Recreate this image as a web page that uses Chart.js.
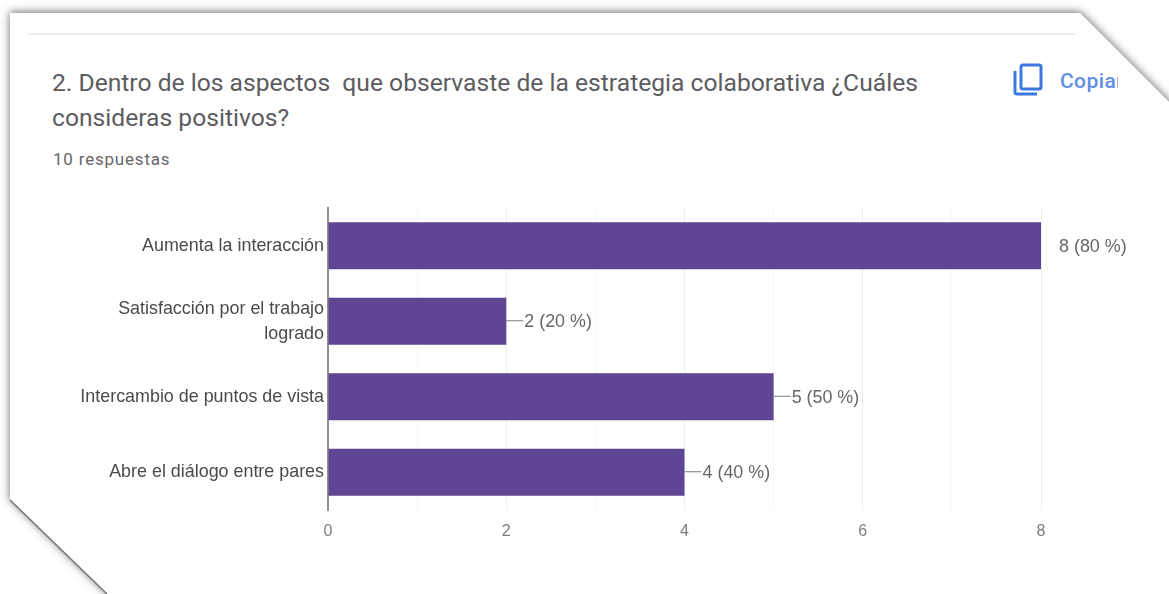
<!DOCTYPE html>
<html lang="es">
<head>
<meta charset="utf-8">
<title>Aspectos positivos</title>
<script src="https://cdn.jsdelivr.net/npm/chart.js@4"></script>
<style>
html,body{margin:0;padding:0;background:#fff;overflow:hidden}
#page{position:relative;width:1169px;height:594px;overflow:hidden}
#card,#chart{position:absolute;left:0;top:0}
.rule{position:absolute;left:28px;top:33px;width:1047px;height:2px;background:#ececec}
.title{position:absolute;left:52px;top:65px;font:24.65px/35px Roboto,sans-serif;color:#5c5c5f;white-space:pre}
.count{position:absolute;left:53px;top:149px;font:17px/20px Roboto,sans-serif;letter-spacing:.8px;color:#66666a}
.copy{position:absolute;left:1060px;top:69px;width:58px;overflow:hidden;font:500 21px/24px Roboto,sans-serif;letter-spacing:.4px;color:#5f8de6;white-space:nowrap}
#icon{position:absolute;left:1012px;top:62px}
</style>
</head>
<body>
<div id="page">
<svg id="card" width="1169" height="594">
<defs>
<filter id="edge" x="-5%" y="-5%" width="110%" height="110%">
<feDropShadow dx="0" dy="-1" stdDeviation="4" flood-color="#444" flood-opacity=".8"/>
</filter>
</defs>
<polygon points="10,13 1080,13 1190,123 1190,610 123,610 10,500" fill="#fff" filter="url(#edge)"/>
<line x1="10" y1="500" x2="107" y2="594" stroke="#77777a" stroke-width="1.5"/>
</svg>
<div class="rule"></div>
<div class="title">2. Dentro de los aspectos  que observaste de la estrategia colaborativa ¿Cuáles
consideras positivos?</div>
<div class="count">10 respuestas</div>
<svg id="icon" width="32" height="36" viewBox="0 0 32 36" fill="none" stroke="#3b78e0" stroke-width="3">
<rect x="9" y="3" width="20" height="24" rx="2"/>
<path d="M3 9V30a2 2 0 0 0 2 2H25"/>
</svg>
<div class="copy">Copiar</div>
<canvas id="chart" width="1169" height="594"></canvas>
</div>
<script>
// Respuestas por aspecto
const categories = [
  "Aumenta la interacción",
  ["Satisfacción por el trabajo", "logrado"],
  "Intercambio de puntos de vista",
  "Abre el diálogo entre pares"
];
const counts = [8, 2, 5, 4];
const percents = [80, 20, 50, 40];
const xTicks = [0, 2, 4, 6, 8];

// Etiqueta de valor con su linea guia, a la derecha de cada barra
const barLabels = {
  id: "barLabels",
  afterDatasetsDraw(chart) {
    const c = chart.ctx;
    const bars = chart.getDatasetMeta(0).data;
    c.save();
    c.font = "17.9px 'Liberation Sans', sans-serif";
    c.textBaseline = "middle";
    bars.forEach((bar, i) => {
      const textX = bar.x + 18;
      // la barra mas larga no lleva guia
      if (counts[i] < 8) {
        c.strokeStyle = "#7c7c7c";
        c.lineWidth = 1;
        c.beginPath();
        c.moveTo(bar.x, bar.y - 0.5);
        c.lineTo(textX - 1, bar.y - 0.5);
        c.stroke();
      }
      c.fillStyle = "#66666a";
      c.fillText(counts[i] + " (" + percents[i] + " %)", textX, bar.y + 1);
    });
    c.restore();
  }
};

new Chart(document.getElementById("chart"), {
  type: "bar",
  data: {
    labels: categories,
    datasets: [{
      data: counts,
      backgroundColor: "#5f4695",
      barPercentage: 0.62,
      categoryPercentage: 1
    }]
  },
  options: {
    indexAxis: "y",
    responsive: false,
    animation: false,
    layout: { padding: { left: 0, right: 128, top: 208, bottom: 54 } },
    plugins: { legend: { display: false }, tooltip: { enabled: false } },
    scales: {
      x: {
        min: 0,
        max: 8,
        afterFit(scale) { scale.height = 30; },
        border: { display: false },
        grid: {
          drawTicks: false,
          color: (ctx) => xTicks.includes(ctx.tick.value) ? "#eeeeee" : "#f8f8f8"
        },
        ticks: {
          stepSize: 1,
          autoSkip: false,
          maxRotation: 0,
          padding: 12,
          color: "#7c7c7f",
          font: { family: "'Liberation Sans', sans-serif", size: 16 },
          callback: (v) => xTicks.includes(v) ? v : ""
        }
      },
      y: {
        afterFit(scale) { scale.width = 328; },
        border: { display: true, color: "#8f8f8f", width: 2 },
        grid: { display: false, drawTicks: false },
        ticks: {
          padding: 4,
          autoSkip: false,
          color: "#4a4a4d",
          font: { family: "'Liberation Sans', sans-serif", size: 17.9, lineHeight: 1.4 }
        }
      }
    }
  },
  plugins: [barLabels]
});
</script>
</body>
</html>
